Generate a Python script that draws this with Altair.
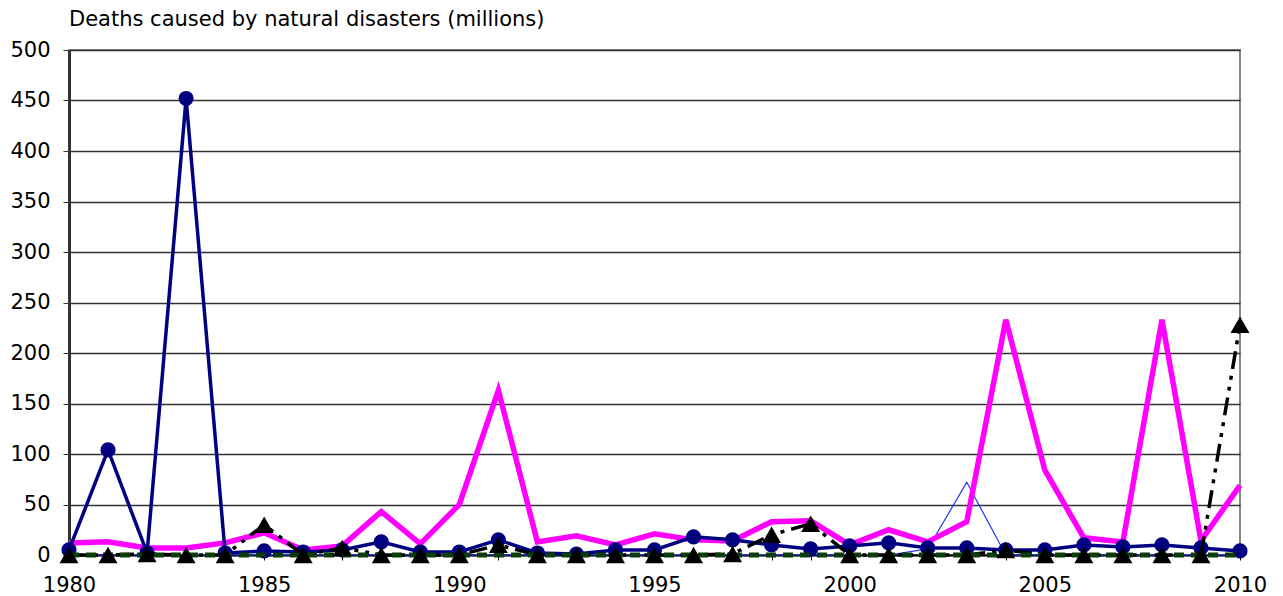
import altair as alt
import pandas as pd

years = list(range(1980, 2011))
x_label_years = [1980, 1985, 1990, 1995, 2000, 2005, 2010]
y_ticks = [0, 50, 100, 150, 200, 250, 300, 350, 400, 450, 500]

# series (millions)
navy_vals = [5, 104, 2, 452, 2, 4, 3, 5, 13, 3, 3, 15, 2, 1, 5, 5, 18, 15, 10, 6,
             9, 12, 7, 7, 5, 5, 10, 8, 10, 7, 4]
magenta_vals = [12, 13, 7, 7, 12, 22, 5, 9, 43, 11, 50, 163, 13, 19, 10, 21, 15, 14, 33, 34,
                10, 25, 13, 33, 233, 84, 17, 13, 233, 14, 69]
triangle_vals = [0, 0, 1, 0, 0, 30, 0, 7, 0, 0, 0, 10, 0, 0, 0, 0, 0, 1, 20, 31,
                 0, 0, 0, 0, 5, 0, 0, 0, 0, 0, 228]
blue_vals = [0, 0, 0, 0, 0, 0, 0, 0, 0, 0, 0, 0, 0, 0, 0, 0, 0, 0, 0, 0,
             0, 0, 6, 72, 0, 0, 0, 0, 0, 0, 0]
green_vals = [0] * 31

FONT = "DejaVu Sans"


def frame(vals):
    return pd.DataFrame({"year": years, "value": vals})


x_enc = alt.X(
    "year:Q",
    scale=alt.Scale(domain=[1980, 2010], nice=False, zero=False),
    axis=alt.Axis(
        values=years,
        labelExpr="datum.value % 5 === 0 ? datum.label : ''",
        format="d",
        title=None,
        grid=False,
        domainColor="#000000",
        domainWidth=2,
        tickColor="#000000",
        tickSize=5,
        labelFont=FONT,
        labelFontSize=21,
        labelColor="#000000",
        labelPadding=14,
        labelFlush=False,
    ),
)
y_enc = alt.Y(
    "value:Q",
    scale=alt.Scale(domain=[0, 500], nice=False),
    axis=alt.Axis(
        values=y_ticks,
        title=None,
        grid=True,
        gridColor="#333333",
        gridWidth=1.5,
        domainColor="#333333",
        domainWidth=3,
        tickColor="#333333",
        tickSize=6,
        labelFont=FONT,
        labelFontSize=21,
        labelColor="#000000",
        labelPadding=13,
    ),
)

blue = alt.Chart(frame(blue_vals)).mark_line(color="#2233ff", strokeWidth=1.2).encode(x=x_enc, y=y_enc)
green = alt.Chart(frame(green_vals)).mark_line(
    color="#0b3d0b", strokeWidth=5, strokeDash=[10, 7]
).encode(x=x_enc, y=y_enc)
magenta = alt.Chart(frame(magenta_vals)).mark_line(color="#ff00ff", strokeWidth=5.5).encode(x=x_enc, y=y_enc)
navy_line = alt.Chart(frame(navy_vals)).mark_line(color="#000080", strokeWidth=3.5).encode(x=x_enc, y=y_enc)
navy_pts = alt.Chart(frame(navy_vals)).mark_circle(color="#000080", size=230, opacity=1).encode(x=x_enc, y=y_enc)
black_line = alt.Chart(frame(triangle_vals)).mark_line(
    color="#000000", strokeWidth=3.5, strokeDash=[18, 7, 4, 7, 4, 7]
).encode(x=x_enc, y=y_enc)
black_pts = alt.Chart(frame(triangle_vals)).mark_point(
    shape="triangle-up", filled=True, color="#000000", size=360, opacity=1
).encode(x=x_enc, y=y_enc)

chart = (
    alt.layer(blue, magenta, navy_line, navy_pts, black_line, green, black_pts)
    .properties(
        width=1171,
        height=505,
        autosize=alt.AutoSizeParams(type="none"),
        padding={"left": 69, "top": 50, "right": 43, "bottom": 41},
        title=alt.TitleParams(
            "Deaths caused by natural disasters (millions)",
            anchor="start",
            frame="group",
            font=FONT,
            fontSize=21,
            fontWeight="normal",
            color="#000000",
            baseline="bottom",
            offset=12,
            dy=24,
        ),
        background="#ffffff",
    )
    .configure_view(stroke="#888888", strokeWidth=2)
)

chart.save("out.html", embed_options={"renderer": "svg", "actions": False})
